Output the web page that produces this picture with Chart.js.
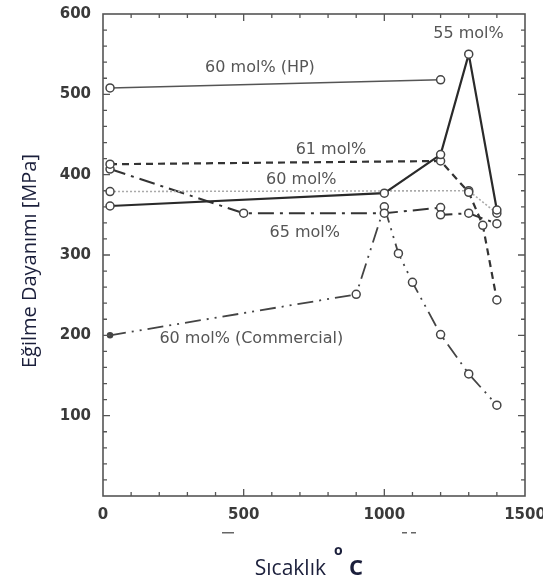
<!DOCTYPE html>
<html>
<head>
<meta charset="utf-8">
<script src="https://cdn.jsdelivr.net/npm/chart.js@4/dist/chart.umd.min.js"></script>
<style>
  html, body { margin: 0; padding: 0; background: #fff; }
  #wrap { width: 543px; height: 580px; position: relative; }
</style>
</head>
<body>
<div id="wrap"><canvas id="c" width="543" height="580"></canvas></div>
<script>
// ---- data ----
const xTickValues = [0, 500, 1000, 1500];
const yTickValues = [100, 200, 300, 400, 500, 600];

const hpX = [25, 1200];
const hpY = [508, 518];

const m55X = [25, 1000, 1200, 1300, 1400];
const m55Y = [361, 377, 425, 550, 356];

const m61X = [25, 1200, 1300, 1350, 1400];
const m61Y = [413, 417, 378, 337, 244];

const m60X = [25, 1300, 1400];
const m60Y = [379, 380, 352];

const m65X = [25, 500, 1000, 1200, 1200, 1300, 1400];
const m65Y = [407, 352, 352, 359, 350, 352, 339];

const comX = [25, 900, 1000, 1050, 1100, 1200, 1300, 1400];
const comY = [200, 251, 360, 302, 266, 201, 152, 113];

const seriesNames = ['60 mol% (HP)', '55 mol%', '61 mol%', '60 mol%', '65 mol%', '60 mol% (Commercial)'];

// annotation anchors (data coordinates)
const labelText = ['60 mol% (HP)', '55 mol%', '61 mol%', '60 mol%', '65 mol%', '60 mol% (Commercial)'];
const labelX = [558, 1299, 810, 705, 717, 527];
const labelY = [533, 575, 431, 394, 327, 196];

function pts(xs, ys) { return xs.map((x, i) => ({ x: x, y: ys[i] })); }

const pointBase = {
  pointRadius: 4, pointBorderWidth: 1.5, pointBackgroundColor: '#fff',
  pointBorderColor: '#444', pointHoverRadius: 4, showLine: true, fill: false, tension: 0
};

const datasets = [
  Object.assign({}, pointBase, { label: seriesNames[0], data: pts(hpX, hpY), borderColor: '#555', borderWidth: 1.5 }),
  Object.assign({}, pointBase, { label: seriesNames[1], data: pts(m55X, m55Y), borderColor: '#2a2a2a', borderWidth: 2.2 }),
  Object.assign({}, pointBase, { label: seriesNames[2], data: pts(m61X, m61Y), borderColor: '#333', borderWidth: 2.2, borderDash: [7, 5] }),
  Object.assign({}, pointBase, { label: seriesNames[3], data: pts(m60X, m60Y), borderColor: '#aaa', borderWidth: 1.6, borderDash: [2, 2] }),
  Object.assign({}, pointBase, { label: seriesNames[4], data: pts(m65X, m65Y), borderColor: '#333', borderWidth: 2, borderDash: [16, 6, 3, 6] }),
  Object.assign({}, pointBase, { label: seriesNames[5], data: pts(comX, comY), borderColor: '#444', borderWidth: 1.8, borderDash: [16, 6, 2, 6, 2, 6],
    pointRadius: [2.5, 4, 4, 4, 4, 4, 4, 4], pointBackgroundColor: ['#444', '#fff', '#fff', '#fff', '#fff', '#fff', '#fff', '#fff'] })
];

const decor = {
  id: 'decor',
  afterDatasetsDraw(chart) {
    const ctx = chart.ctx, xs = chart.scales.x, ys = chart.scales.y;
    ctx.save();
    ctx.fillStyle = '#555';
    ctx.font = '16px "DejaVu Sans"';
    ctx.textAlign = 'center';
    ctx.textBaseline = 'middle';
    labelText.forEach((t, i) => {
      ctx.fillText(t, xs.getPixelForValue(labelX[i]), ys.getPixelForValue(labelY[i]));
    });
    ctx.restore();
  },
  afterDraw(chart) {
    const ctx = chart.ctx, a = chart.chartArea, xs = chart.scales.x, ys = chart.scales.y;
    ctx.save();
    ctx.strokeStyle = '#555';
    ctx.lineWidth = 1.6;
    ctx.strokeRect(a.left, a.top, a.right - a.left, a.bottom - a.top);
    ctx.lineWidth = 1.3;
    ctx.beginPath();
    for (let v = 100; v < 1500; v += 100) {
      const p = xs.getPixelForValue(v);
      const L = (v % 500 === 0) ? 7 : 4;
      ctx.moveTo(p, a.bottom); ctx.lineTo(p, a.bottom - L);
      ctx.moveTo(p, a.top); ctx.lineTo(p, a.top + L);
    }
    for (let v = 20; v < 600; v += 20) {
      const p = ys.getPixelForValue(v);
      const L = (v % 100 === 0) ? 7 : 4;
      ctx.moveTo(a.left, p); ctx.lineTo(a.left + L, p);
      ctx.moveTo(a.right, p); ctx.lineTo(a.right - L, p);
    }
    ctx.stroke();

    // stray marks under the x labels
    ctx.fillStyle = '#666';
    ctx.fillRect(222, 532, 12, 1.5);
    ctx.fillRect(402, 532, 5, 1.5);
    ctx.fillRect(411, 532, 5, 1.5);

    // axis titles
    ctx.fillStyle = '#1b1f3b';
    ctx.font = '20px "Open Sans"';
    ctx.textAlign = 'center';
    ctx.textBaseline = 'middle';
    ctx.save();
    ctx.translate(30, 261);
    ctx.rotate(-Math.PI / 2);
    ctx.fillText('Eğilme Dayanımı [MPa]', 0, 0);
    ctx.restore();

    ctx.textBaseline = 'alphabetic';
    ctx.textAlign = 'right';
    ctx.font = '21px "Open Sans"';
    ctx.fillText('Sıcaklık', 326, 575);
    ctx.textAlign = 'left';
    ctx.font = 'bold 14px "Open Sans"';
    ctx.fillText('o', 334, 555);
    ctx.font = 'bold 22px "Open Sans"';
    ctx.fillText('C', 349, 575);
    ctx.restore();
  }
};

new Chart(document.getElementById('c'), {
  type: 'scatter',
  data: { datasets: datasets },
  plugins: [decor],
  options: {
    responsive: false,
    animation: false,
    layout: { padding: { top: 14, right: 18, left: 0, bottom: 0 } },
    plugins: { legend: { display: false }, tooltip: { enabled: false } },
    scales: {
      x: {
        type: 'linear', min: 0, max: 1500,
        afterFit(s) { s.height = 84; s.paddingLeft = 0; s.paddingRight = 0; },
        afterBuildTicks(s) { s.ticks = xTickValues.map(v => ({ value: v })); },
        grid: { display: false, drawTicks: false },
        border: { display: false },
        ticks: { padding: 10, color: '#3a3a3a', font: { family: 'DejaVu Sans', weight: 'bold', size: 15 }, maxRotation: 0,
          callback: (v) => String(v) }
      },
      y: {
        type: 'linear', min: 0, max: 600,
        afterFit(s) { s.width = 103; s.paddingTop = 0; s.paddingBottom = 0; },
        afterBuildTicks(s) { s.ticks = yTickValues.map(v => ({ value: v })); },
        grid: { display: false, drawTicks: false },
        border: { display: false },
        ticks: { padding: 12, color: '#3a3a3a', font: { family: 'DejaVu Sans', weight: 'bold', size: 15 },
          callback: (v) => String(v) }
      }
    }
  }
});
</script>
</body>
</html>
